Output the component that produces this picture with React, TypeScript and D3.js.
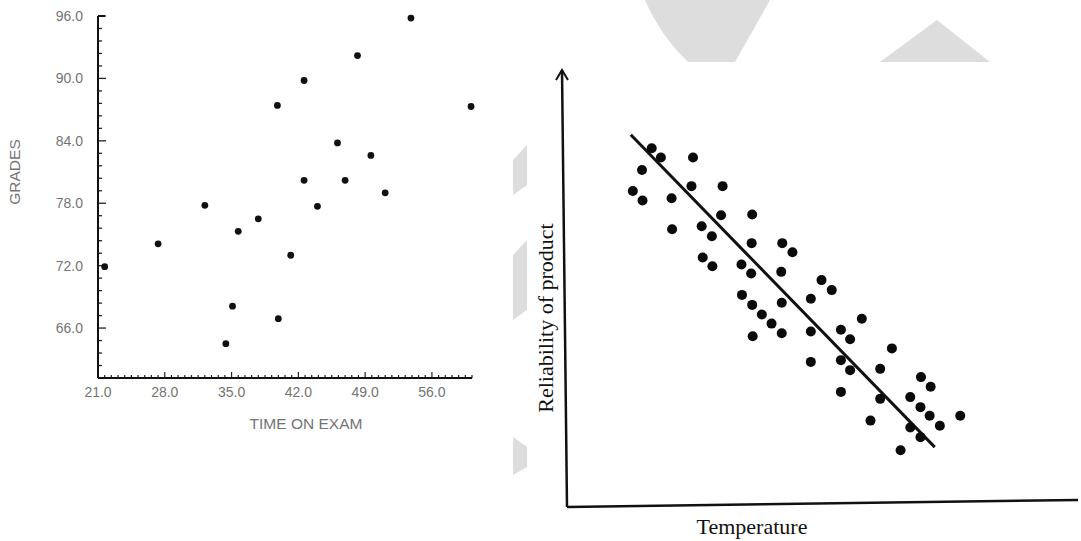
import * as d3 from 'd3';

// ---- left chart: grades vs time on exam ----
const examTime = [53.8, 48.2, 42.6, 39.8, 60.1, 46.1, 49.6, 42.6, 46.9, 51.1, 32.2, 44.0, 37.8, 35.7, 27.3, 41.2, 21.7, 35.1, 39.9, 34.4];
const grades = [95.8, 92.2, 89.8, 87.4, 87.3, 83.8, 82.6, 80.2, 80.2, 79.0, 77.8, 77.7, 76.5, 75.3, 74.1, 73.0, 71.9, 68.1, 66.9, 64.5];
const gradeTicks = [66, 72, 78, 84, 90, 96];
const timeTicks = [21, 28, 35, 42, 49, 56];

// ---- right chart: reliability vs temperature (unitless 0-100) ----
const temperature = [17.0, 18.8, 25.1, 15.1, 13.3, 15.2, 20.9, 24.8, 30.9, 30.6, 36.7, 21.0, 26.8, 28.8, 36.6, 42.6, 27.0, 28.9, 34.6, 36.5, 42.4, 34.7, 44.6, 50.3, 52.3, 48.2, 36.7, 42.5, 38.6, 40.5, 42.5, 36.8, 48.2, 58.2, 54.1, 55.9, 64.1, 48.2, 54.1, 55.9, 61.8, 54.1, 69.8, 71.7, 61.8, 67.7, 69.7, 71.5, 77.5, 73.5, 59.9, 67.7, 69.7, 65.8];
const reliability = [82.0, 79.9, 79.9, 77.0, 72.2, 70.0, 70.5, 73.3, 73.3, 66.6, 66.8, 63.4, 64.1, 61.8, 60.2, 60.2, 56.9, 54.9, 55.3, 53.2, 53.6, 48.3, 58.1, 51.7, 49.4, 47.4, 46.0, 46.5, 43.8, 41.7, 39.5, 38.8, 39.9, 42.8, 40.3, 38.1, 36.0, 32.9, 33.3, 31.0, 31.3, 26.0, 29.4, 27.2, 24.4, 24.8, 22.5, 20.5, 20.5, 18.2, 19.4, 17.8, 15.6, 12.6];
const fitLine = [
  { x: 12.9, y: 85.1 },
  { x: 72.5, y: 13.3 },
];

const sans = '"Liberation Sans", Arial, sans-serif';
const serif = '"Liberation Serif", "Times New Roman", serif';
const grayText = '#747474';

function GradesChart() {
  const x = d3.scaleLinear().domain([21, 60.2]).range([98, 472]);
  const y = d3.scaleLinear().domain([61.2, 96]).range([378, 16]);
  const [x0, x1] = x.range();
  const [y0, y1] = y.range();

  const xMinor = d3.range(0, 57).map((i) => 21 + i * 0.7);
  const yMinor = d3.range(0, 30).map((i) => 61.2 + i * 1.2);
  const isMajor = (v: number, list: number[]) => list.some((t) => Math.abs(t - v) < 0.01);

  return (
    <g>
      {/* ticks */}
      {yMinor.map((v, i) => (
        <line key={'ym' + i} x1={x0} x2={x0 + (isMajor(v, gradeTicks) ? 8 : 4)} y1={y(v)} y2={y(v)} stroke="#222" strokeWidth={1.3} />
      ))}
      {xMinor.map((v, i) => (
        <line key={'xm' + i} x1={x(v)} x2={x(v)} y1={y0} y2={y0 - (isMajor(v, timeTicks) ? 6 : 3)} stroke="#222" strokeWidth={1.2} />
      ))}
      {/* axes */}
      <line x1={x0} x2={x0} y1={y1} y2={y0} stroke="#111" strokeWidth={2} />
      <line x1={x0} x2={x1} y1={y0} y2={y0} stroke="#111" strokeWidth={2} />
      <line x1={x0} x2={x0 + 7} y1={y1} y2={y1} stroke="#111" strokeWidth={2} />

      {gradeTicks.map((t) => (
        <text key={'yl' + t} x={83} y={y(t)} textAnchor="end" dominantBaseline="central" fontFamily={sans} fontSize={14} fill={grayText}>
          {t.toFixed(1)}
        </text>
      ))}
      {timeTicks.map((t) => (
        <text key={'xl' + t} x={x(t)} y={397} textAnchor="middle" fontFamily={sans} fontSize={14} fill={grayText}>
          {t.toFixed(1)}
        </text>
      ))}

      <text x={306} y={429} textAnchor="middle" fontFamily={sans} fontSize={15.5} fill={grayText}>
        TIME ON EXAM
      </text>
      <text transform="translate(20,172) rotate(-90)" textAnchor="middle" fontFamily={sans} fontSize={15.5} fill={grayText}>
        GRADES
      </text>

      {examTime.map((t, i) => (
        <circle key={'p' + i} cx={x(t)} cy={y(grades[i])} r={3.4} fill="#111" />
      ))}
    </g>
  );
}

function ReliabilityChart() {
  const x = d3.scaleLinear().domain([0, 100]).range([565, 1075]);
  const y = d3.scaleLinear().domain([0, 100]).range([505, 70]);
  const [x0, x1] = x.range();
  const [y0, y1] = y.range();
  const line = d3
    .line<{ x: number; y: number }>()
    .x((d) => x(d.x))
    .y((d) => y(d.y));

  return (
    <g>
      {/* y axis with arrow */}
      <line x1={x0 - 3} y1={y1} x2={x0 + 2} y2={y0 + 2} stroke="#111" strokeWidth={2.5} />
      <path d={`M${x0 - 9},${y1 + 10} L${x0 - 3},${y1} L${x0 + 3},${y1 + 10}`} fill="none" stroke="#111" strokeWidth={2} />
      {/* x axis */}
      <line x1={x0 + 2} y1={y0 + 2} x2={x1 + 3} y2={y0 - 5} stroke="#111" strokeWidth={2.5} />

      <path d={line(fitLine) || ''} fill="none" stroke="#111" strokeWidth={3} />

      {temperature.map((t, i) => (
        <circle key={'r' + i} cx={x(t)} cy={y(reliability[i])} r={5} fill="#0a0a0a" />
      ))}

      <text transform="translate(545,318) rotate(-90)" textAnchor="middle" dominantBaseline="central" fontFamily={serif} fontSize={22} fill="#111">
        Reliability of product
      </text>
      <text x={752} y={534} textAnchor="middle" fontFamily={serif} fontSize={22} fill="#111">
        Temperature
      </text>
    </g>
  );
}

function Watermark() {
  const fill = '#dddddd';
  return (
    <g fill={fill}>
      <path d="M645,0 L770,0 L735,62 L688,62 Q660,35 645,0 Z" />
      <path d="M937,20 L880,62 L990,62 Z" />
      <path d="M513,160 L527,145 L527,185 L513,195 Z" />
      <path d="M513,255 L527,240 L527,310 L513,320 Z" />
      <path d="M513,437 L527,447 L527,467 L513,475 Z" />
    </g>
  );
}

export default function App() {
  return (
    <svg
      width={1081}
      height={541}
      viewBox="0 0 1081 541"
      style={{ position: 'absolute', left: 0, top: 0, background: '#fff' }}
    >
      <rect width={1081} height={541} fill="#fff" />
      <Watermark />
      <GradesChart />
      <ReliabilityChart />
    </svg>
  );
}
